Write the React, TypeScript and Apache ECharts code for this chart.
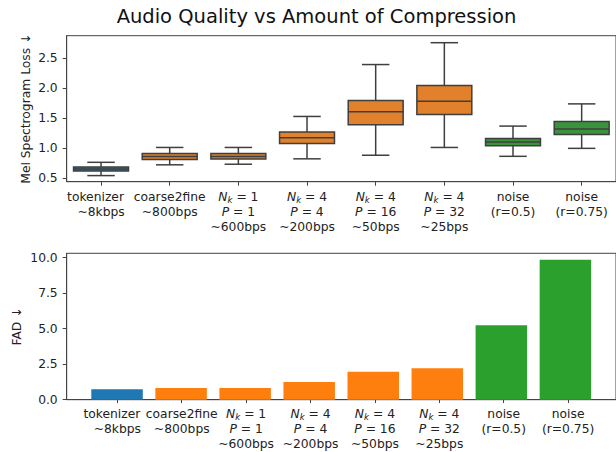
import React, { useEffect, useRef } from "react";
import * as echarts from "echarts";

// ---- data ----
const categories = [
  "tokenizer",
  "coarse2fine",
  "Nk=1 P=1",
  "Nk=4 P=4",
  "Nk=4 P=16",
  "Nk=4 P=32",
  "noise r=0.5",
  "noise r=0.75",
];
const tickLabels = [
  "{pad|tokenizer}\n~8kbps",
  "coarse2fine\n~800bps",
  "{it|N}{sub|k}{n| = 1}\n{it|P}{n| = 1}\n~600bps",
  "{it|N}{sub|k}{n| = 4}\n{it|P}{n| = 4}\n~200bps",
  "{it|N}{sub|k}{n| = 4}\n{it|P}{n| = 16}\n~50bps",
  "{it|N}{sub|k}{n| = 4}\n{it|P}{n| = 32}\n~25bps",
  "noise\n(r=0.5)",
  "noise\n(r=0.75)",
];
const groups = ["base", "ours", "ours", "ours", "ours", "ours", "noise", "noise"];

// Mel spectrogram loss box statistics
const boxLow = [0.54, 0.72, 0.73, 0.82, 0.88, 1.01, 0.862, 0.995];
const boxQ1 = [0.617, 0.81, 0.817, 1.078, 1.39, 1.562, 1.04, 1.228];
const boxMedian = [0.65, 0.857, 0.86, 1.172, 1.605, 1.783, 1.1, 1.317];
const boxQ3 = [0.683, 0.91, 0.91, 1.267, 1.795, 2.045, 1.16, 1.445];
const boxHigh = [0.762, 1.01, 1.01, 1.528, 2.395, 2.76, 1.367, 1.738];

// FAD values
const fad = [0.73, 0.82, 0.83, 1.24, 1.96, 2.21, 5.24, 9.86];

const melTicks = [0.5, 1.0, 1.5, 2.0, 2.5];
const fadTicks = [0, 2.5, 5, 7.5, 10];

const boxColors: Record<string, string> = { base: "#3274a1", ours: "#e1812c", noise: "#3a923a" };
const barColors: Record<string, string> = { base: "#1f77b4", ours: "#ff7f0e", noise: "#2ca02c" };

const FONT = "DejaVu Sans";
const TXT = "#222";
const LINE = "#444";
const FS = 12.3;
const LH = 15.2;

const rich = {
  pad: { fontSize: FS, fontFamily: FONT, color: TXT, lineHeight: LH, padding: [0, 11, 0, 0], verticalAlign: "middle" },
  it: { fontSize: FS, fontFamily: FONT, color: TXT, lineHeight: LH, fontStyle: "italic", verticalAlign: "middle" },
  sub: { fontSize: 8.6, fontFamily: FONT, color: TXT, lineHeight: LH, fontStyle: "italic", verticalAlign: "bottom" },
  n: { fontSize: FS, fontFamily: FONT, color: TXT, lineHeight: LH, verticalAlign: "middle" },
};

const xLabelBase = {
  fontSize: FS,
  fontFamily: FONT,
  color: TXT,
  lineHeight: LH,
  margin: 7.4,
  interval: 0,
  hideOverlap: false,
  rich,
  formatter: (_v: string, i: number) => tickLabels[i],
};

// bar positions on the value axis: 1-based slot of each category
const barSlots = categories.map((_, i) => i + 1);
const BAR_MIN = 0.214;
const BAR_MAX = 8.79;

export default function App() {
  const ref = useRef<HTMLDivElement>(null);
  useEffect(() => {
    if (!ref.current) return;
    const chart = echarts.init(ref.current, undefined, { renderer: "svg" });
    const boxData = categories.map((_, i) => ({
      value: [i, boxLow[i], boxQ1[i], boxMedian[i], boxQ3[i], boxHigh[i]],
      itemStyle: { color: boxColors[groups[i]] },
    }));
    const barData = categories.map((_, i) => ({
      value: [barSlots[i], fad[i]],
      itemStyle: { color: barColors[groups[i]] },
    }));
    // label band grid for the bar chart: spans slot 0.5 .. 8.5 of the value axis
    const g1Left = 66.7;
    const g1Width = 552.3;
    const unit = g1Width / (BAR_MAX - BAR_MIN);
    const g2Left = g1Left + (0.5 - BAR_MIN) * unit;
    const g2Width = categories.length * unit;

    const yLabel = { fontSize: FS, fontFamily: FONT, color: TXT, margin: 9 };
    chart.setOption({
      animation: false,
      title: {
        text: "Audio Quality vs Amount of Compression",
        left: 316.5,
        top: 6,
        padding: 0,
        textAlign: "center",
        textStyle: { fontSize: 19.5, fontWeight: "normal", fontFamily: FONT, color: "#111" },
      },
      grid: [
        { left: 66.7, top: 35.7, width: 550, height: 146, show: true, borderColor: LINE, borderWidth: 1, backgroundColor: "transparent" },
        { left: g1Left, top: 253.3, width: g1Width, height: 146.4, show: true, borderColor: LINE, borderWidth: 1, backgroundColor: "transparent" },
        { left: g2Left, top: 253.3, width: g2Width, height: 146.4, show: false },
      ],
      xAxis: [
        {
          gridIndex: 0,
          type: "category",
          data: categories,
          boundaryGap: true,
          axisLine: { show: true, onZero: false, lineStyle: { color: LINE, width: 1 } },
          axisTick: { show: true, alignWithLabel: true, length: 4, lineStyle: { color: LINE } },
          axisLabel: xLabelBase,
          splitLine: { show: false },
        },
        {
          gridIndex: 1,
          type: "value",
          min: BAR_MIN,
          max: BAR_MAX,
          axisLine: { show: true, onZero: false, lineStyle: { color: LINE, width: 1 } },
          axisTick: { show: false },
          axisLabel: { show: false },
          splitLine: { show: false },
        },
        {
          gridIndex: 2,
          type: "category",
          data: categories,
          boundaryGap: true,
          axisLine: { show: false, onZero: false },
          axisTick: { show: true, alignWithLabel: true, length: 4, lineStyle: { color: LINE } },
          axisLabel: xLabelBase,
          splitLine: { show: false },
        },
      ],
      yAxis: [
        {
          gridIndex: 0,
          type: "value",
          min: 0.438,
          max: 2.877,
          name: "Mel Spectrogram Loss ↓",
          nameLocation: "middle",
          nameGap: 35,
          nameMoveOverlap: false,
          nameTextStyle: { fontSize: FS, fontFamily: FONT, color: TXT },
          axisLine: { show: true, onZero: false, lineStyle: { color: LINE, width: 1 } },
          axisTick: { show: true, length: 4, lineStyle: { color: LINE }, customValues: melTicks },
          axisLabel: { ...yLabel, customValues: melTicks, formatter: (v: number) => v.toFixed(1) },
          splitLine: { show: false },
        },
        {
          gridIndex: 1,
          type: "value",
          min: 0,
          max: 10.31,
          name: "FAD ↓",
          nameLocation: "middle",
          nameGap: 44,
          nameMoveOverlap: false,
          nameTextStyle: { fontSize: FS, fontFamily: FONT, color: TXT },
          axisLine: { show: true, onZero: false, lineStyle: { color: LINE, width: 1 } },
          axisTick: { show: true, length: 4, lineStyle: { color: LINE }, customValues: fadTicks },
          axisLabel: { ...yLabel, customValues: fadTicks, formatter: (v: number) => v.toFixed(1) },
          splitLine: { show: false },
        },
        {
          gridIndex: 2,
          type: "value",
          show: false,
        },
      ],
      series: [
        {
          type: "custom",
          xAxisIndex: 0,
          yAxisIndex: 0,
          data: boxData,
          encode: { x: 0, y: [1, 2, 3, 4, 5] },
          renderItem: (params: any, api: any) => {
            const x = api.value(0);
            const low = api.coord([x, api.value(1)]);
            const q1 = api.coord([x, api.value(2)]);
            const med = api.coord([x, api.value(3)]);
            const q3 = api.coord([x, api.value(4)]);
            const high = api.coord([x, api.value(5)]);
            const band = api.size([1, 0])[0];
            const bw = band * 0.8;
            const cw = band * 0.4;
            const cx = low[0];
            const ls = { stroke: "#3f3f3f", lineWidth: 1.5 };
            return {
              type: "group",
              children: [
                { type: "line", shape: { x1: cx, y1: q1[1], x2: cx, y2: low[1] }, style: ls },
                { type: "line", shape: { x1: cx, y1: q3[1], x2: cx, y2: high[1] }, style: ls },
                { type: "line", shape: { x1: cx - cw / 2, y1: low[1], x2: cx + cw / 2, y2: low[1] }, style: ls },
                { type: "line", shape: { x1: cx - cw / 2, y1: high[1], x2: cx + cw / 2, y2: high[1] }, style: ls },
                {
                  type: "rect",
                  shape: { x: cx - bw / 2, y: q3[1], width: bw, height: q1[1] - q3[1] },
                  style: { fill: api.visual("color"), stroke: "#3f3f3f", lineWidth: 1.5 },
                },
                { type: "line", shape: { x1: cx - bw / 2, y1: med[1], x2: cx + bw / 2, y2: med[1] }, style: ls },
              ],
            };
          },
        },
        {
          type: "bar",
          xAxisIndex: 1,
          yAxisIndex: 1,
          data: barData,
          barWidth: 51.5,
        },
      ],
    });
    return () => chart.dispose();
  }, []);
  return (
    <div
      ref={ref}
      style={{ position: "absolute", left: 0, top: 0, width: 616, height: 452, background: "#fff" }}
    />
  );
}
